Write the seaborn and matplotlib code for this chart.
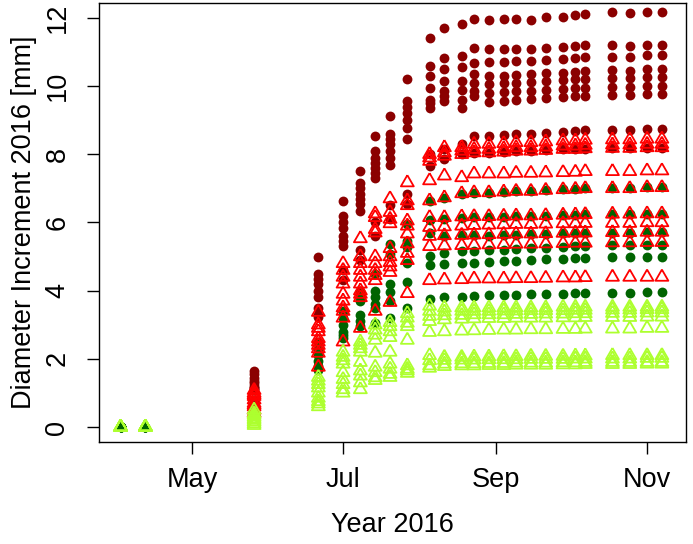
import pandas as pd
import matplotlib.pyplot as plt
import matplotlib.dates as mdates
import seaborn as sns

# measurement dates (green trees measured from the first date, red ones from May 26)
dates = ["2016-04-02", "2016-04-12", "2016-05-26", "2016-06-21", "2016-07-01",
         "2016-07-08", "2016-07-14", "2016-07-20", "2016-07-27", "2016-08-05",
         "2016-08-11", "2016-08-18", "2016-08-23", "2016-08-29", "2016-09-04",
         "2016-09-09", "2016-09-15", "2016-09-21", "2016-09-28", "2016-10-03",
         "2016-10-07", "2016-10-18", "2016-10-25", "2016-11-01", "2016-11-07"]

# dark red filled circles (from 2016-05-26)
dark_red = [
    [1.65, 5.0, 6.62, 7.52, 8.55, 9.13, 10.2, 11.42, 11.72, 11.83, 11.96, 11.93, 11.96, 11.96, 11.93, 12.03, 12.03, 12.09, 12.13, 12.17, 12.14, 12.17, 12.17],
    [1.55, 4.5, 6.2, 7.17, 8.1, 8.6, 9.57, 10.59, 10.83, 10.89, 11.12, 11.1, 11.1, 11.08, 11.1, 11.12, 11.15, 11.17, 11.2, 11.2, 11.18, 11.22, 11.2],
    [1.45, 4.35, 6.0, 7.0, 7.9, 8.45, 9.4, 10.3, 10.5, 10.55, 10.68, 10.7, 10.72, 10.75, 10.75, 10.78, 10.8, 10.82, 10.85, 10.87, 10.87, 10.9, 10.92],
    [1.35, 4.2, 5.85, 6.85, 7.75, 8.3, 9.2, 9.96, 10.15, 10.15, 10.36, 10.3, 10.3, 10.32, 10.35, 10.38, 10.4, 10.42, 10.45, 10.47, 10.45, 10.5, 10.5],
    [1.3, 4.0, 5.6, 6.7, 7.6, 8.1, 9.0, 9.6, 9.86, 9.9, 10.1, 10.05, 10.08, 10.1, 10.12, 10.15, 10.18, 10.2, 10.22, 10.25, 10.25, 10.27, 10.28],
    [1.2, 3.8, 5.45, 6.55, 7.45, 7.9, 8.78, 9.5, 9.7, 9.6, 9.85, 9.8, 9.82, 9.85, 9.87, 9.9, 9.92, 9.94, 9.96, 9.98, 9.98, 10.0, 10.0],
    [1.14, 3.5, 5.3, 6.35, 7.3, 7.7, 8.46, 9.37, 9.57, 9.37, 9.72, 9.55, 9.57, 9.6, 9.62, 9.65, 9.68, 9.7, 9.72, 9.75, 9.75, 9.77, 9.78],
    [1.15, 3.3, 4.6, 5.2, 6.0, 6.5, 6.85, 8.0, 8.15, 8.3, 8.55, 8.55, 8.58, 8.6, 8.6, 8.62, 8.65, 8.68, 8.7, 8.72, 8.72, 8.75, 8.75],
    [1.1, 3.22, 4.3, 4.9, 5.6, 6.1, 6.55, 7.67, 7.87, 8.0, 8.05, 8.05, 8.08, 8.1, 8.1, 8.12, 8.15, 8.15, 8.17, 8.18, 8.18, 8.2, 8.2],
]

# red open triangles (from 2016-05-26)
red = [
    [1.08, 3.37, 4.8, 5.53, 6.26, 6.7, 7.17, 8.0, 8.2, 8.2, 8.3, 8.3, 8.32, 8.35, 8.35, 8.37, 8.4, 8.4, 8.42, 8.43, 8.43, 8.45, 8.45],
    [1.0, 3.0, 4.6, 5.0, 6.15, 6.3, 6.64, 7.9, 8.05, 8.1, 8.15, 8.15, 8.17, 8.2, 8.2, 8.22, 8.25, 8.25, 8.27, 8.28, 8.28, 8.3, 8.3],
    [0.95, 2.9, 4.4, 4.8, 5.8, 6.1, 6.5, 7.8, 7.95, 8.0, 8.05, 8.05, 8.07, 8.1, 8.1, 8.12, 8.15, 8.15, 8.17, 8.18, 8.18, 8.2, 8.2],
    [0.9, 2.8, 4.2, 4.6, 5.7, 5.97, 6.05, 7.23, 7.37, 7.32, 7.43, 7.43, 7.43, 7.45, 7.45, 7.46, 7.47, 7.48, 7.5, 7.5, 7.5, 7.52, 7.52],
    [0.8, 2.6, 3.9, 4.4, 5.0, 5.24, 5.9, 6.64, 6.73, 6.85, 6.88, 6.88, 6.9, 6.92, 6.92, 6.95, 6.97, 6.98, 7.0, 7.0, 7.0, 7.03, 7.03],
    [0.7, 2.5, 3.7, 4.2, 4.8, 5.0, 5.67, 6.15, 6.15, 6.17, 6.18, 6.18, 6.19, 6.2, 6.2, 6.21, 6.22, 6.23, 6.24, 6.25, 6.25, 6.26, 6.26],
    [0.65, 2.4, 3.5, 4.0, 4.6, 4.83, 5.38, 5.86, 5.88, 5.9, 5.92, 5.93, 5.94, 5.95, 5.95, 5.96, 5.97, 5.97, 5.98, 5.98, 5.98, 6.0, 6.0],
    [0.6, 2.3, 3.4, 3.9, 4.45, 4.7, 5.1, 5.6, 5.62, 5.63, 5.64, 5.65, 5.66, 5.67, 5.67, 5.68, 5.69, 5.7, 5.7, 5.71, 5.71, 5.72, 5.72],
    [0.5, 2.17, 3.2, 3.8, 4.3, 4.54, 4.89, 5.3, 5.32, 5.33, 5.34, 5.35, 5.36, 5.37, 5.37, 5.38, 5.39, 5.4, 5.4, 5.41, 5.41, 5.42, 5.42],
    [0.41, 1.76, 2.5, 2.9, 3.4, 3.66, 3.92, 4.3, 4.32, 4.33, 4.35, 4.35, 4.35, 4.36, 4.36, 4.37, 4.38, 4.38, 4.39, 4.4, 4.4, 4.4, 4.4],
]

# dark green filled circles (all dates)
dark_green = [
    [0, 0, 0.8, 2.5, 3.4, 4.0, 4.5, 5.38, 5.97, 6.64, 6.73, 6.85, 6.88, 6.88, 6.9, 6.92, 6.93, 6.95, 6.97, 6.98, 7.0, 7.0, 7.0, 7.03, 7.03],
    [0, 0, 0.7, 2.3, 3.2, 3.85, 4.0, 5.09, 5.47, 6.06, 6.1, 6.12, 6.15, 6.15, 6.17, 6.18, 6.2, 6.2, 6.22, 6.23, 6.24, 6.25, 6.25, 6.26, 6.26],
    [0, 0, 0.6, 2.1, 3.0, 3.7, 3.8, 4.2, 5.27, 5.68, 5.6, 5.62, 5.63, 5.6, 5.62, 5.64, 5.65, 5.66, 5.68, 5.69, 5.7, 5.7, 5.7, 5.72, 5.72],
    [0, 0, 0.55, 1.95, 2.8, 3.3, 3.6, 3.95, 4.8, 5.03, 5.1, 5.15, 5.15, 5.18, 5.2, 5.22, 5.24, 5.26, 5.28, 5.3, 5.32, 5.33, 5.33, 5.35, 5.35],
    [0, 0, 0.5, 1.8, 2.7, 3.1, 3.5, 3.7, 4.24, 4.74, 4.78, 4.8, 4.82, 4.85, 4.87, 4.88, 4.9, 4.92, 4.93, 4.95, 4.97, 4.98, 4.98, 5.0, 5.0],
    [0, 0, 0.4, 1.67, 2.6, 2.95, 3.04, 3.19, 3.48, 3.77, 3.8, 3.82, 3.84, 3.86, 3.87, 3.88, 3.89, 3.9, 3.91, 3.92, 3.93, 3.94, 3.94, 3.96, 3.96],
]

# light green open triangles (all dates)
light_green = [
    [0, 0, 0.5, 1.46, 2.2, 2.5, 3.0, 3.07, 3.33, 3.55, 3.5, 3.5, 3.5, 3.5, 3.5, 3.5, 3.5, 3.5, 3.52, 3.52, 3.52, 3.52, 3.52, 3.52, 3.52],
    [0, 0, 0.4, 1.35, 2.05, 2.4, 2.85, 2.95, 3.2, 3.4, 3.38, 3.4, 3.4, 3.4, 3.41, 3.41, 3.42, 3.42, 3.42, 3.43, 3.43, 3.44, 3.44, 3.45, 3.45],
    [0, 0, 0.35, 1.25, 1.95, 2.3, 2.7, 2.8, 3.05, 3.25, 3.27, 3.28, 3.3, 3.3, 3.3, 3.31, 3.31, 3.32, 3.32, 3.33, 3.33, 3.34, 3.34, 3.35, 3.35],
    [0, 0, 0.3, 1.15, 1.85, 2.2, 2.55, 2.63, 2.95, 3.1, 3.15, 3.17, 3.18, 3.19, 3.19, 3.2, 3.2, 3.2, 3.21, 3.21, 3.22, 3.22, 3.22, 3.23, 3.23],
    [0, 0, 0.25, 1.0, 1.6, 1.9, 2.17, 2.2, 2.55, 2.78, 2.8, 2.82, 2.83, 2.84, 2.85, 2.85, 2.86, 2.86, 2.87, 2.87, 2.88, 2.88, 2.88, 2.9, 2.9],
    [0, 0, 0.2, 0.85, 1.4, 1.65, 1.76, 1.85, 1.8, 2.1, 2.05, 2.05, 2.06, 2.06, 2.07, 2.07, 2.08, 2.08, 2.08, 2.09, 2.09, 2.1, 2.1, 2.1, 2.1],
    [0, 0, 0.15, 0.75, 1.25, 1.5, 1.6, 1.7, 1.7, 1.95, 1.96, 1.97, 1.97, 1.98, 1.98, 1.98, 1.99, 1.99, 1.99, 2.0, 2.0, 2.0, 2.0, 2.02, 2.02],
    [0, 0, 0.1, 0.68, 1.1, 1.3, 1.45, 1.55, 1.65, 1.8, 1.85, 1.86, 1.86, 1.87, 1.87, 1.88, 1.88, 1.88, 1.89, 1.89, 1.9, 1.9, 1.9, 1.9, 1.9],
    [0, 0, 0.05, 0.6, 1.0, 1.1, 1.37, 1.46, 1.58, 1.73, 1.78, 1.8, 1.8, 1.81, 1.81, 1.82, 1.82, 1.82, 1.83, 1.83, 1.84, 1.84, 1.84, 1.85, 1.85],
]


def to_frame(trees, day_list):
    rows = []
    for i, tree in enumerate(trees):
        for d, v in zip(day_list, tree, strict=True):
            rows.append({"date": d, "tree": i, "inc": v})
    df = pd.DataFrame(rows)
    df["date"] = pd.to_datetime(df["date"])
    return df


df_dark_red = to_frame(dark_red, dates[2:])
df_red = to_frame(red, dates[2:])
df_dark_green = to_frame(dark_green, dates)
df_light_green = to_frame(light_green, dates)

sns.set_style("ticks")
plt.rcParams["font.family"] = ["Liberation Sans", "DejaVu Sans"]
plt.rcParams["text.color"] = "black"
plt.rcParams["axes.labelcolor"] = "black"
plt.rcParams["xtick.color"] = "black"
plt.rcParams["ytick.color"] = "black"

fig = plt.figure(figsize=(6.93, 5.44), dpi=100)
ax = fig.add_axes([99 / 693, 1 - 442 / 544, (686 - 99) / 693, (442 - 3) / 544])

# R-like equilateral triangle (centroid at the centre)
tri = [(0, 1.5551), (1.3468, -0.7776), (-1.3468, -0.7776), (0, 1.5551)]

sns.scatterplot(data=df_dark_red, x="date", y="inc", ax=ax, color="#8B0000",
                marker="o", s=50, linewidth=0, legend=False)
sns.scatterplot(data=df_dark_green, x="date", y="inc", ax=ax, color="#006400",
                marker="o", s=50, linewidth=0, legend=False)
sns.scatterplot(data=df_red, x="date", y="inc", ax=ax, color="#FF0000",
                marker=tri, s=115, facecolor="none", edgecolor="#FF0000",
                linewidth=1.3, legend=False)
sns.scatterplot(data=df_light_green, x="date", y="inc", ax=ax, color="#ADFF2F",
                marker=tri, s=115, facecolor="none", edgecolor="#ADFF2F",
                linewidth=1.3, legend=False)

ax.set_xlim(pd.Timestamp("2016-03-24 06:00"), pd.Timestamp("2016-11-16 18:00"))
ax.set_ylim(-0.44, 12.44)
ax.set_yticks([0, 2, 4, 6, 8, 10, 12])
ax.xaxis.set_major_locator(mdates.MonthLocator(bymonth=[5, 7, 9, 11]))
ax.xaxis.set_major_formatter(mdates.DateFormatter("%b"))

ax.tick_params(axis="both", length=8.6, width=1, color="black", labelsize=19.5)
ax.tick_params(axis="x", pad=9.3)
ax.tick_params(axis="y", labelrotation=90, pad=12)
plt.setp(ax.get_yticklabels(), va="center")
for sp in ax.spines.values():
    sp.set_linewidth(1)
    sp.set_color("black")

ax.set_xlabel("Year 2016", fontsize=19.5, labelpad=13.5)
ax.set_ylabel("Diameter Increment 2016 [mm]", fontsize=19.5, labelpad=5)

fig.savefig("out.png", dpi=100)
